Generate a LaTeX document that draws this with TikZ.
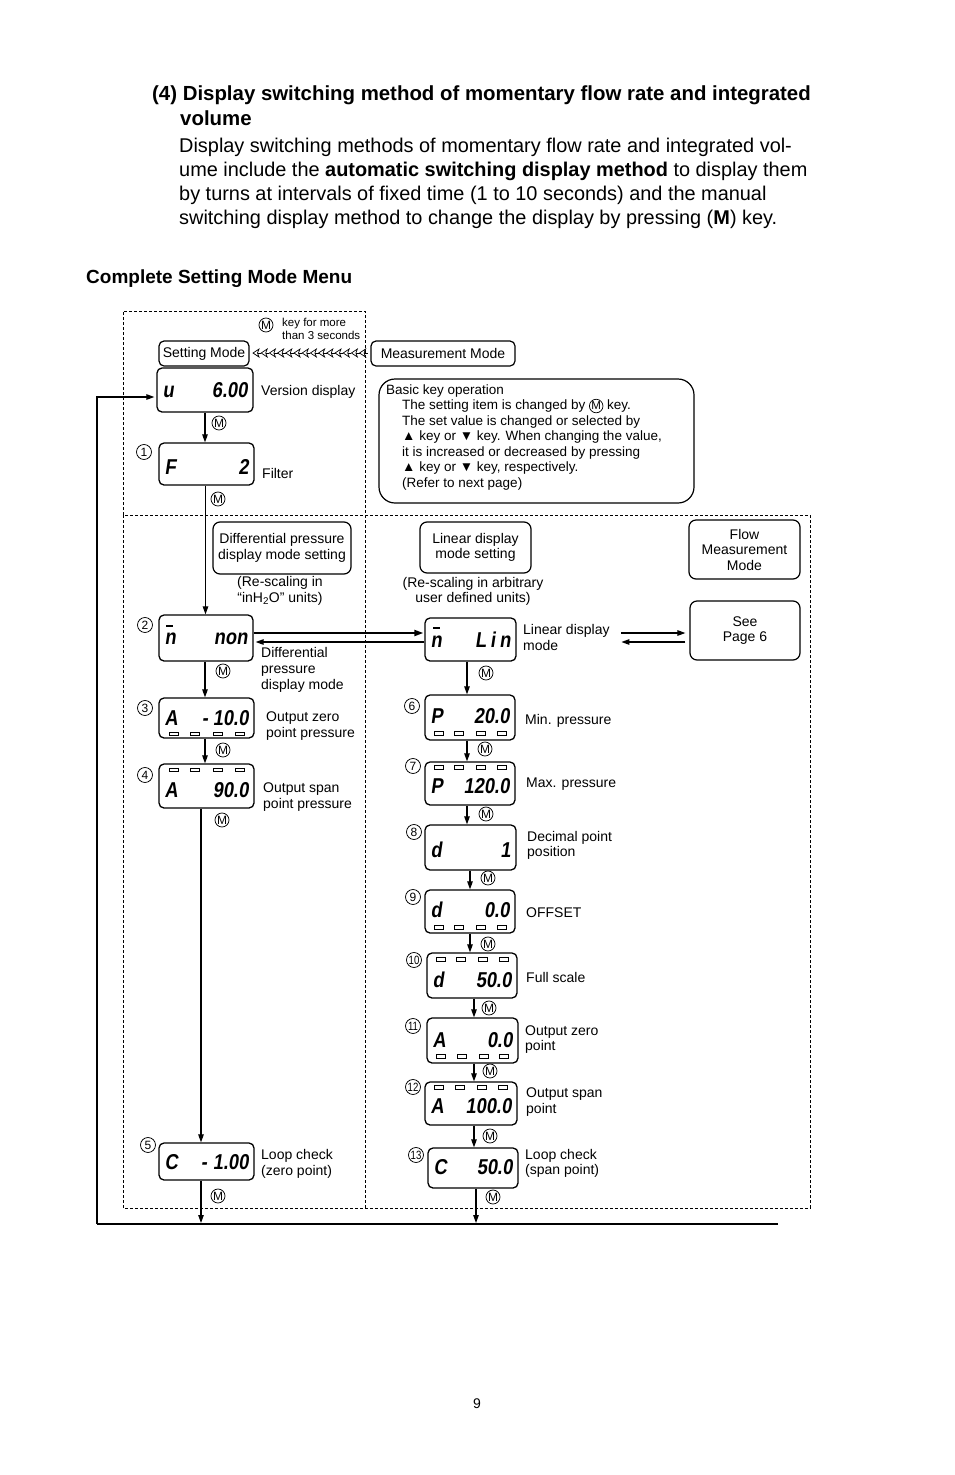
\documentclass[tikz,border=0pt]{standalone}
\usepackage{fontspec}
\setmainfont{Liberation Sans}
\newfontfamily\lcdfont[FakeSlant=0.15,FakeStretch=0.85]{Liberation Sans}
\usetikzlibrary{arrows.meta,calc}
\newcommand\fsz[2]{\fontsize{#1}{#2}\selectfont}
\newcommand\inlinem{\tikz[baseline=(im.base)]\node[circle,draw,line width=0.7pt,inner sep=0.4pt,minimum size=13pt,font=\fsz{11.5}{11.5}] (im) {M};}
\tikzset{
  lbl/.style={anchor=west, inner sep=0pt, align=left, font=\fsz{14}{15.7}},
  lcd/.style={draw, line width=1.3pt, rounded corners=5pt, inner sep=0pt},
  lcdtxt/.style={inner sep=0pt, font=\lcdfont\bfseries\fsz{21.5}{21.5}},
  barst/.style={line width=0.8pt},
  mk/.style={circle, draw, line width=0.75pt, inner sep=0pt, minimum size=14pt, font=\fsz{12}{12}},
  cn/.style={circle, draw, line width=0.75pt, inner sep=0pt, minimum size=15pt, font=\fsz{12}{12}},
  arr/.style={-{Triangle[length=8pt,width=5.5pt]}, line width=1.1pt},
  rbox/.style={draw, line width=1.2pt, rounded corners=7pt, align=center, inner sep=0pt, font=\fsz{14}{15.5}},
  dashline/.style={line width=0.9pt, dash pattern=on 3pt off 2pt},
}
% name, cx, cy, w, h, left, right, baseline offset
\newcommand\lcdpanel[8]{%
  \node[lcd, minimum width=#4pt, minimum height=#5pt] (#1) at (#2,#3) {};
  \node[lcdtxt, anchor=base west] (#1l) at ($(#1.west)+(6,#8)$) {#6};
  \node[lcdtxt, anchor=base east] (#1r) at ($(#1.east)+(-6,#8)$) {#7};
}
\newcommand\lcdbars[2]{%
  \foreach \f in {0.16,0.38,0.62,0.845}{%
    \draw[barst] ($($(#1.west)!\f!(#1.east)$)+(-4.5,#2-1.75)$) rectangle ++(9,3.5);
  }}
\begin{document}
\begin{tikzpicture}[x=1pt,y=-1pt]
\useasboundingbox (0,0) rectangle (954,1475);

% header
\node[anchor=west, inner sep=0pt, font=\bfseries\fsz{20.4}{22}] (t1) at (152,95) {(4) Display switching method of momentary flow rate and integrated};
\node[anchor=west, inner sep=0pt, font=\bfseries\fsz{20.4}{22}] (t2) at (180,118) {volume};
\node[anchor=west, inner sep=0pt, font=\fsz{19.9}{24}] (b1) at (179,147) {Display switching methods of momentary flow rate and integrated vol-};
\node[anchor=west, inner sep=0pt, font=\fsz{19.9}{24}] (b2) at (179,171) {ume include the \textbf{automatic switching display method} to display them};
\node[anchor=west, inner sep=0pt, font=\fsz{19.9}{24}] (b3) at (179,195) {by turns at intervals of fixed time (1 to 10 seconds) and the manual};
\node[anchor=west, inner sep=0pt, font=\fsz{19.9}{24}] (b4) at (179,219) {switching display method to change the display by pressing (\textbf{M}) key.};
\node[anchor=west, inner sep=0pt, font=\bfseries\fsz{19}{20}] (csm) at (86,279) {Complete Setting Mode Menu};

% dashed frames
\draw[dashline] (123,515) -- (123,311) -- (365,311) -- (365,1208);
\draw[dashline] (123,515) rectangle (810,1208);

% top boxes
\node[rbox, rounded corners=5pt, minimum width=90pt, minimum height=25pt] (smode) at (204,353.5) {Setting Mode};
\node[rbox, rounded corners=5pt, minimum width=144pt, minimum height=25pt] (mmode) at (443,353.5) {Measurement Mode};
\foreach \i in {0,...,13}{
  \draw[line width=0.7pt] ({253+8.2*\i},353) -- ++(6,-4) -- ++(-1.5,4) -- ++(1.5,4) -- cycle;
  \draw[line width=0.7pt] ({257.5+8.2*\i},353) -- ++(3.7,0);
}
\node[mk] (mkey) at (266,325) {M};
\node[anchor=west, inner sep=0pt, align=left, font=\fsz{11.5}{12.8}] (keyt) at (282,328.5) {key for more\\than 3 seconds};

% basic key operation box
\node[draw, line width=1.2pt, rounded corners=16pt, minimum width=315pt, minimum height=124pt] (bkey) at (536.5,441) {};
\node[anchor=west, inner sep=0pt, align=left, font=\fsz{13.5}{15.5}] (bkeyt) at (386,437.5) {Basic key operation\\
\hspace*{16pt}The setting item is changed by \inlinem\ key.\\
\hspace*{16pt}The set value is changed or selected by\\
\hspace*{16pt}▲ key or ▼ key. When changing the value,\\
\hspace*{16pt}it is increased or decreased by pressing\\
\hspace*{16pt}▲ key or ▼ key, respectively.\\
\hspace*{16pt}(Refer to next page)};

% mode boxes
\node[rbox, minimum width=138pt, minimum height=52pt] (bdp) at (282,548) {Differential pressure\\display mode setting};
\node[anchor=center, inner sep=0pt, align=center, font=\fsz{14}{15.7}] (rsdp) at (280,591) {(Re-scaling in\\“inH\textsubscript{2}O” units)};
\node[rbox, minimum width=111pt, minimum height=51pt] (blin) at (475.5,547.5) {Linear display\\mode setting};
\node[anchor=center, inner sep=0pt, align=center, font=\fsz{14}{15.7}] (rslin) at (473,591.5) {(Re-scaling in arbitrary\\user defined units)};
\node[rbox, minimum width=111pt, minimum height=59pt] (bflow) at (744.5,549.5) {Flow\\Measurement\\Mode};
\node[rbox, minimum width=110pt, minimum height=59pt] (bsee) at (745,630.5) {See\\Page 6};

% left column panels
\lcdpanel{dv}{205}{390}{96}{44}{u}{6.00}{7.5}
\lcdpanel{df}{206.5}{464}{95}{42}{F}{2}{10}
\lcdpanel{dn}{206}{638}{94}{46}{n}{non}{6}
\draw[line width=1.8pt] (166,626) -- (173,626);
\lcdpanel{da1}{206.5}{718}{95}{40}{A}{-\hspace{5pt}10.0}{7}
\lcdbars{da1}{16}
\lcdpanel{da2}{206.5}{786}{95}{44}{A}{90.0}{11}
\lcdbars{da2}{-16}
\lcdpanel{dc1}{206.5}{1161.5}{95}{37}{C}{-\hspace{6pt}1.00}{7.5}

% right column panels
\lcdpanel{dlin}{470.5}{639.5}{91}{43}{n}{L\hspace{4pt}i\hspace{4pt}n}{8}
\draw[line width=1.8pt] (433,628) -- (440,628);
\lcdpanel{dp1}{470}{717.5}{90}{45}{P}{20.0}{5.5}
\lcdbars{dp1}{16}
\lcdpanel{dp2}{470}{783.5}{90}{43}{P}{120.0}{9.5}
\lcdbars{dp2}{-16}
\lcdpanel{dd1}{470.5}{847.5}{91}{45}{d}{1}{9.5}
\lcdpanel{dd2}{470}{911.5}{90}{43}{d}{0.0}{6}
\lcdbars{dd2}{16}
\lcdpanel{dd3}{472}{975.5}{90}{45}{d}{50.0}{11.5}
\lcdbars{dd3}{-16}
\lcdpanel{da3}{472.5}{1040.5}{91}{45}{A}{0.0}{6.5}
\lcdbars{da3}{16}
\lcdpanel{da4}{471}{1103.5}{92}{43}{A}{100.0}{9.5}
\lcdbars{da4}{-16}
\lcdpanel{dc2}{473}{1168}{90}{40}{C}{50.0}{6}

% circled numbers
\node[cn] (n1) at (144,452) {1};
\node[cn] (n2) at (145,625) {2};
\node[cn] (n3) at (145,708) {3};
\node[cn] (n4) at (145,775) {4};
\node[cn] (n5) at (148,1145) {5};
\node[cn] (n6) at (412,706) {6};
\node[cn] (n7) at (413,766) {7};
\node[cn] (n8) at (414,832) {8};
\node[cn] (n9) at (413,897) {9};
\node[cn] (n10) at (414,960) {\scalebox{0.8}[1]{10}};
\node[cn] (n11) at (413,1026) {\scalebox{0.8}[1]{11}};
\node[cn] (n12) at (413,1087) {\scalebox{0.8}[1]{12}};
\node[cn] (n13) at (416,1155) {\scalebox{0.8}[1]{13}};

% labels
\node[lbl] (lv) at (261,392) {Version display};
\node[lbl] (lf) at (262,473) {Filter};
\node[lbl] (ln) at (261,670) {Differential\\pressure\\display mode};
\node[lbl] (la1) at (266,726) {Output zero\\point pressure};
\node[lbl] (la2) at (263,797) {Output span\\point pressure};
\node[lbl] (lc1) at (261,1164) {Loop check\\(zero point)};
\node[lbl] (llin) at (523,637.5) {Linear display\\mode};
\node[lbl] (lp1) at (525,721) {Min. pressure};
\node[lbl] (lp2) at (526,784) {Max. pressure};
\node[lbl] (ld1) at (527,845.5) {Decimal point\\position};
\node[lbl] (ld2) at (526,913) {OFFSET};
\node[lbl] (ld3) at (526,977) {Full scale};
\node[lbl] (la3) at (525,1039.5) {Output zero\\point};
\node[lbl] (la4) at (526,1102) {Output span\\point};
\node[lbl] (lc2) at (525,1163.5) {Loop check\\(span point)};

% vertical connectors, left column
\coordinate (c1) at ($(dv.south)+(0,0)$);
\draw[arr] (c1) -- (c1 |- df.north);
\coordinate (c2) at ($(df.south)+(-1,0)$);
\draw[arr] (c2) -- (c2 |- dn.north);
\coordinate (c3) at ($(dn.south)+(-1,0)$);
\draw[arr] (c3) -- (c3 |- da1.north);
\coordinate (c4) at ($(da1.south)+(-1.5,0)$);
\draw[arr] (c4) -- (c4 |- da2.north);
\coordinate (c5) at ($(da2.south)+(-5.5,0)$);
\draw[arr] (c5) -- (c5 |- dc1.north);
\coordinate (c6) at ($(dc1.south)+(-5.5,0)$);
\coordinate (loopL) at (97,1224);
\coordinate (loopR) at (778,1224);
\draw[arr] (c6) -- ($(c6 |- loopL)+(0,-1)$);
\node[mk] (m1) at (219,423) {M};
\node[mk] (m2) at (218,499) {M};
\node[mk] (m3) at (223,671) {M};
\node[mk] (m4) at (223,750) {M};
\node[mk] (m5) at (222,820) {M};
\node[mk] (m6) at (218,1196) {M};

% vertical connectors, right column
\coordinate (r1) at ($(dlin.south)+(-3.5,0)$);
\draw[arr] (r1) -- (r1 |- dp1.north);
\coordinate (r2) at ($(dp1.south)+(-3,0)$);
\draw[arr] (r2) -- (r2 |- dp2.north);
\coordinate (r3) at ($(dp2.south)+(-3,0)$);
\draw[arr] (r3) -- (r3 |- dd1.north);
\coordinate (r4) at ($(dd1.south)+(-0.5,0)$);
\draw[arr] (r4) -- (r4 |- dd2.north);
\coordinate (r5) at ($(dd2.south)+(0,0)$);
\draw[arr] (r5) -- (r5 |- dd3.north);
\coordinate (r6) at ($(dd3.south)+(2,0)$);
\draw[arr] (r6) -- (r6 |- da3.north);
\coordinate (r7) at ($(da3.south)+(1.5,0)$);
\draw[arr] (r7) -- (r7 |- da4.north);
\coordinate (r8) at ($(da4.south)+(3,0)$);
\draw[arr] (r8) -- (r8 |- dc2.north);
\coordinate (r9) at ($(dc2.south)+(3,0)$);
\draw[arr] (r9) -- ($(r9 |- loopL)+(0,-1)$);
\node[mk] (m7) at (486,673) {M};
\node[mk] (m8) at (485,749) {M};
\node[mk] (m9) at (486,814) {M};
\node[mk] (m10) at (488,878) {M};
\node[mk] (m11) at (488,944) {M};
\node[mk] (m12) at (489,1008) {M};
\node[mk] (m13) at (490,1071) {M};
\node[mk] (m14) at (490,1136) {M};
\node[mk] (m15) at (493,1197) {M};

% horizontal connectors
\draw[-{Triangle[length=9pt,width=6pt]}, line width=2pt] ($(dn.east)+(0,-5)$) -- ($(dn.east -| dlin.west)+(-1,-5)$);
\draw[arr] ($(dlin.west)+(0,2.5)$) -- ($(dlin.west -| dn.east)+(2,2.5)$);
\draw[arr] ($(bsee.west)+(-68,2.5)$) -- ($(bsee.west)+(-4,2.5)$);
\draw[arr] ($(bsee.west)+(-4,11.5)$) -- ($(bsee.west)+(-68,11.5)$);

% return loop
\draw[line width=1.1pt] (loopR) -- (loopL);
\draw[arr] (loopL) |- ($(dv.west)+(-2,7)$);

% page number
\node[inner sep=0pt, font=\fsz{14}{16}] (pg) at (477,1404) {9};
\end{tikzpicture}
\end{document}
